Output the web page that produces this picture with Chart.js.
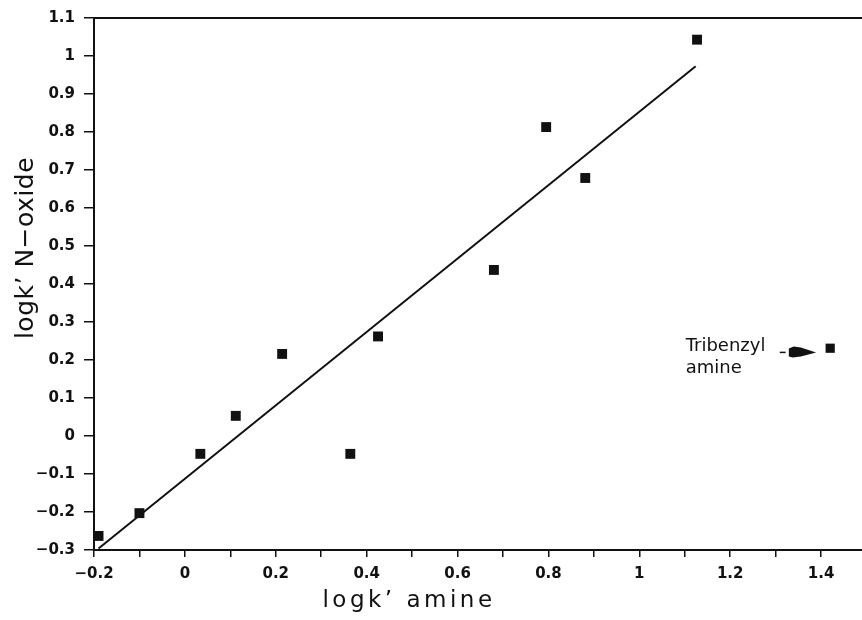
<!DOCTYPE html>
<html>
<head>
<meta charset="utf-8">
<script src="https://cdn.jsdelivr.net/npm/chart.js@4/dist/chart.umd.min.js"></script>
<style>
  html, body { margin: 0; padding: 0; background: #fff; }
  canvas { display: block; }
</style>
</head>
<body>
<canvas id="plot" width="862" height="620"></canvas>
<script>
// logk' values
const amineLogK = [-0.19, -0.10, 0.034, 0.112, 0.214, 0.364, 0.425, 0.680, 0.795, 0.881, 1.127];
const oxideLogK = [-0.263, -0.203, -0.047, 0.053, 0.216, -0.047, 0.262, 0.437, 0.813, 0.679, 1.043];

// tribenzyl amine, left out of the fit
const outlierAmine = [1.42];
const outlierOxide = [0.231];

// ends of the fitted line
const fitAmine = [-0.19, 1.124];
const fitOxide = [-0.296, 0.973];

// tick marks (x labelled every other mark)
const xTicks = [-0.2, -0.1, 0, 0.1, 0.2, 0.3, 0.4, 0.5, 0.6, 0.7, 0.8, 0.9, 1, 1.1, 1.2, 1.3, 1.4];
const yTicks = [-0.3, -0.2, -0.1, 0, 0.1, 0.2, 0.3, 0.4, 0.5, 0.6, 0.7, 0.8, 0.9, 1, 1.1];

const xTitle = "logk’ amine";
const yTitle = "logk’ N−oxide";
const noteLines = ['Tribenzyl', 'amine'];

const ink = '#111';
const tickFont = { family: 'DejaVu Sans', size: 15, weight: 'bold' };

function fmt(v) {
    const r = Math.round(v * 10) / 10;
    return (r < 0 ? '−' : '') + String(Math.abs(r));
}

// frame top line, axis titles and the arrow note
const extras = {
    id: 'extras',
    afterDraw(chart) {
        const ctx = chart.ctx;
        const area = chart.chartArea;
        const x = chart.scales.x;
        const y = chart.scales.y;
        ctx.save();

        ctx.strokeStyle = ink;
        ctx.lineWidth = 2;
        ctx.beginPath();
        ctx.moveTo(area.left, area.top);
        ctx.lineTo(area.right, area.top);
        ctx.stroke();

        ctx.fillStyle = ink;
        ctx.textBaseline = 'alphabetic';

        // x title
        ctx.font = '23px "DejaVu Sans"';
        ctx.letterSpacing = '3.5px';
        ctx.textAlign = 'center';
        ctx.fillText(xTitle, 409, 607);

        // y title
        ctx.font = '25px "DejaVu Sans"';
        ctx.letterSpacing = '0.5px';
        ctx.save();
        ctx.translate(33, 248);
        ctx.rotate(-Math.PI / 2);
        ctx.fillText(yTitle, 0, 0);
        ctx.restore();

        // note text
        ctx.letterSpacing = '0px';
        ctx.font = '18px "DejaVu Sans"';
        ctx.textAlign = 'left';
        ctx.fillText(noteLines[0], x.getPixelForValue(1.102), y.getPixelForValue(0.225));
        ctx.fillText(noteLines[1], x.getPixelForValue(1.102), y.getPixelForValue(0.165));

        // arrow
        const ay = y.getPixelForValue(0.22);
        const a0 = x.getPixelForValue(1.309);
        const a1 = x.getPixelForValue(1.322);
        const b0 = x.getPixelForValue(1.329);
        const tip = x.getPixelForValue(1.389);
        ctx.lineWidth = 1.5;
        ctx.beginPath();
        ctx.moveTo(a0, ay);
        ctx.lineTo(a1, ay);
        ctx.stroke();
        ctx.beginPath();
        ctx.moveTo(b0, ay - 4);
        ctx.lineTo(b0 + 5, ay - 6);
        ctx.lineTo(b0 + 12, ay - 5);
        ctx.lineTo(tip, ay);
        ctx.lineTo(b0 + 12, ay + 4);
        ctx.lineTo(b0 + 4, ay + 5);
        ctx.lineTo(b0, ay + 4);
        ctx.closePath();
        ctx.fill();

        ctx.restore();
    }
};

new Chart(document.getElementById('plot').getContext('2d'), {
    type: 'scatter',
    data: {
        datasets: [
            {
                label: 'amines',
                data: amineLogK.map((v, i) => ({ x: v, y: oxideLogK[i] })),
                pointStyle: 'rect',
                pointRadius: 7,
                backgroundColor: ink,
                borderColor: ink,
                borderWidth: 0
            },
            {
                label: 'tribenzyl amine',
                data: outlierAmine.map((v, i) => ({ x: v, y: outlierOxide[i] })),
                pointStyle: 'rect',
                pointRadius: 6.5,
                backgroundColor: ink,
                borderColor: ink,
                borderWidth: 0
            },
            {
                label: 'fit',
                type: 'line',
                data: fitAmine.map((v, i) => ({ x: v, y: fitOxide[i] })),
                showLine: true,
                pointRadius: 0,
                borderColor: ink,
                borderWidth: 2,
                fill: false
            }
        ]
    },
    options: {
        responsive: false,
        animation: false,
        layout: { autoPadding: false, padding: { top: 18, right: 0, left: 0, bottom: 0 } },
        plugins: {
            legend: { display: false },
            tooltip: { enabled: false }
        },
        scales: {
            x: {
                type: 'linear',
                min: -0.2,
                max: 1.49,
                afterBuildTicks(s) { s.ticks = xTicks.map(v => ({ value: v })); },
                afterFit(s) { s.height = 70; },
                border: { color: ink, width: 2 },
                grid: { drawOnChartArea: false, tickLength: 7, color: ink, lineWidth: 1.5 },
                ticks: {
                    autoSkip: false,
                    maxRotation: 0,
                    padding: 8,
                    color: ink,
                    font: tickFont,
                    callback: v => (Math.round(v * 10) % 2 === 0 ? fmt(v) : '')
                }
            },
            y: {
                type: 'linear',
                min: -0.3,
                max: 1.1,
                afterBuildTicks(s) { s.ticks = yTicks.map(v => ({ value: v })); },
                afterFit(s) { s.width = 94; },
                border: { color: ink, width: 2 },
                grid: { drawOnChartArea: false, tickLength: 10, color: ink, lineWidth: 1.5 },
                ticks: {
                    autoSkip: false,
                    padding: 9,
                    color: ink,
                    font: tickFont,
                    callback: v => fmt(v)
                }
            }
        }
    },
    plugins: [extras]
});
</script>
</body>
</html>
